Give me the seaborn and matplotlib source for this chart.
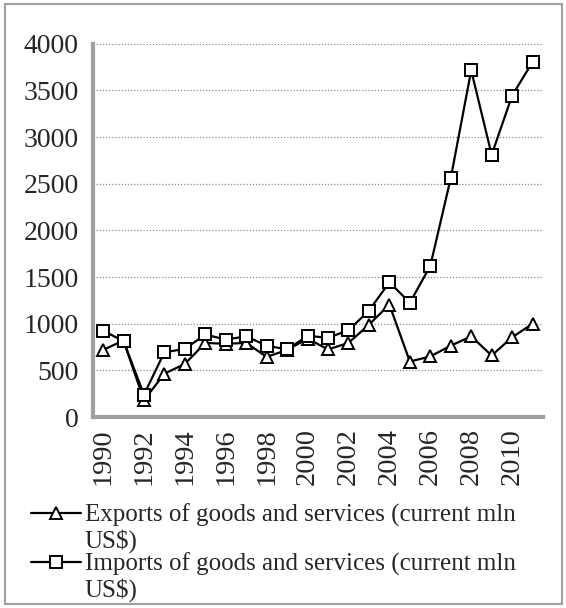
import matplotlib
matplotlib.use("Agg")
import matplotlib.pyplot as plt
from matplotlib.patches import Rectangle
from matplotlib.legend_handler import HandlerLine2D
import numpy as np
import seaborn as sns
import pandas as pd

years = list(range(1990, 2012))
exports = [720, 820, 180, 465, 570, 795, 785, 795, 645, 720, 840, 725,
           795, 990, 1205, 595, 650, 765, 865, 660, 855, 1000]
imports = [925, 815, 240, 695, 730, 885, 830, 865, 765, 725, 870, 850,
           930, 1140, 1445, 1225, 1620, 2560, 3715, 2810, 3445, 3805]
series_names = ["Exports of goods and services (current mln\nUS$)",
                "Imports of goods and services (current mln\nUS$)"]
year_labels = [str(y) for y in years[::2]]
y_ticks = [0, 500, 1000, 1500, 2000, 2500, 3000, 3500, 4000]

df = pd.DataFrame({"Year": years, "Exports": exports, "Imports": imports})

sns.set_theme(style="white")
plt.rcParams["font.family"] = ["Liberation Serif", "DejaVu Serif"]


class FirstLineHandler(HandlerLine2D):
    """Legend handle aligned with the first line of a two-line label."""

    def __init__(self, shift, **kw):
        super().__init__(**kw)
        self.shift = shift

    def create_artists(self, legend, orig_handle, xdescent, ydescent,
                       width, height, fontsize, trans):
        artists = super().create_artists(legend, orig_handle, xdescent, ydescent,
                                         width, height, fontsize, trans)
        for a in artists:
            a.set_ydata(np.asarray(a.get_ydata(), dtype=float) + self.shift * fontsize)
        return artists


fig = plt.figure(figsize=(5.66, 6.08), dpi=100)
ax = fig.add_axes([0.164, 0.314, 0.795, 0.614])

axis_grey = "#a0a0a3"
common = dict(color="black", linewidth=1.6, markersize=9,
              markerfacecolor="white", markeredgecolor="black",
              markeredgewidth=1.4)
sns.lineplot(data=df, x="Year", y="Exports", marker="^", ax=ax,
             label=series_names[0], **common)
sns.lineplot(data=df, x="Year", y="Imports", marker="s", ax=ax,
             label=series_names[1], **common)

ax.set_xlim(years[0] - 0.5, years[-1] + 0.5)
ax.set_ylim(0, 4000)
ax.set_yticks(y_ticks)
ax.set_yticklabels([str(v) for v in y_ticks], fontsize=20)
ax.set_xticks(years[::2])
ax.set_xticklabels(year_labels, rotation=90, fontsize=20.5)
ax.set_xlabel("")
ax.set_ylabel("")

# dotted horizontal grid
for v in y_ticks[1:]:
    ax.axhline(v, color="#8c8c8c", linestyle=(0, (1, 1.5)), linewidth=0.9, zorder=0)

for side in ["top", "right"]:
    ax.spines[side].set_visible(False)
for side in ["left", "bottom"]:
    ax.spines[side].set_color(axis_grey)
    ax.spines[side].set_linewidth(3)

# category-style ticks between years on the x axis
ax.tick_params(axis="x", which="major", length=0, pad=8)
ax.set_xticks([y - 0.5 for y in years] + [years[-1] + 0.5], minor=True)
ax.tick_params(axis="x", which="minor", direction="out", length=4,
               width=3, color=axis_grey)
ax.tick_params(axis="y", direction="out", length=4, width=3,
               color=axis_grey, pad=6)

ax.get_legend().remove()
handles, labels = ax.get_legend_handles_labels()
leg = fig.legend(handles, labels, loc="upper left", bbox_to_anchor=(0.055, 0.172),
                 frameon=False, fontsize=18, handlelength=2.0, handletextpad=0.15,
                 labelspacing=0.0, borderaxespad=0, borderpad=0,
                 handler_map={h: FirstLineHandler(0.6) for h in handles})
for t in leg.get_texts():
    t.set_linespacing(1.1)

# outer frame around the chart area
fig.patches.append(Rectangle((0.009, 0.006), 0.984, 0.987, transform=fig.transFigure,
                             fill=False, edgecolor=axis_grey, linewidth=1.5))

fig.savefig("out.png", dpi=100)
